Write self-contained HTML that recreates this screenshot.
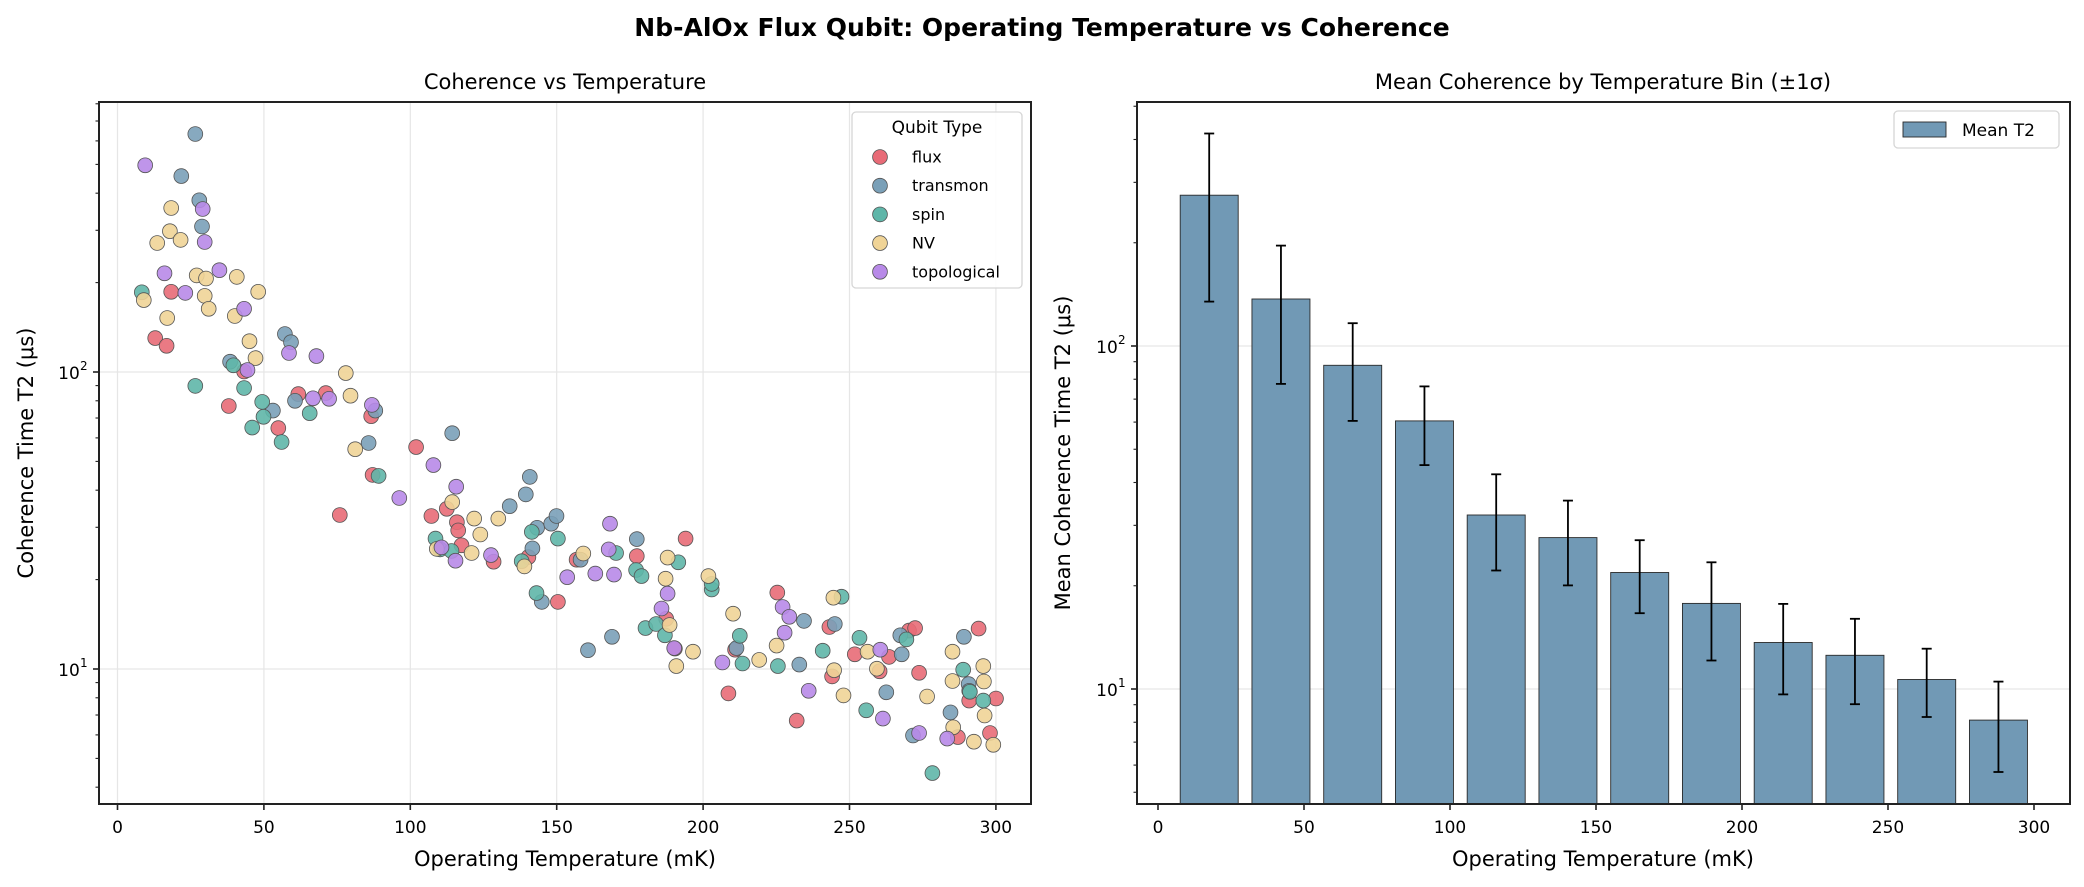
<!DOCTYPE html>
<html><head><meta charset="utf-8"><style>
html,body{margin:0;padding:0;background:#fff;}
svg{display:block;font-family:"DejaVu Sans","Liberation Sans",sans-serif;}
</style></head><body>
<svg id="s" width="2084" height="887" xmlns="http://www.w3.org/2000/svg">
<text x="1042" y="36" text-anchor="middle" font-size="25" font-weight="bold" fill="#000">Nb-AlOx Flux Qubit: Operating Temperature vs Coherence</text>
<text x="565" y="89" text-anchor="middle" font-size="21" fill="#000">Coherence vs Temperature</text>
<text x="1603" y="89" text-anchor="middle" font-size="21" fill="#000">Mean Coherence by Temperature Bin (±1σ)</text>
<g id="L"></g><g id="R"></g>
</svg>
<script>
const NS="http://www.w3.org/2000/svg";
function el(p,t,a,txt){const e=document.createElementNS(NS,t);for(const k in a)e.setAttribute(k,a[k]);if(txt!==undefined)e.textContent=txt;p.appendChild(e);return e;}
const L=document.getElementById('L'),R=document.getElementById('R');
const lx0=99,lx1=1031,ty=102,by=804;
const LX=t=>117.5+t*2.928, LY=v=>372-(Math.log10(v)-2)*297;
for(let t=0;t<=300;t+=50)el(L,'line',{x1:LX(t),x2:LX(t),y1:ty,y2:by,stroke:'#e6e6e6','stroke-width':1.2});
[10,100].forEach(v=>el(L,'line',{x1:lx0,x2:lx1,y1:LY(v),y2:LY(v),stroke:'#e6e6e6','stroke-width':1.2}));
const pts={
flux:['#e86b77',[[256,412],[232,502],[249,517],[342,634],[365,567],[446,611],[487,609],[416,677],[555,654],[557,768],[508,846],[622,714],[645,848],[668,834],[683,860],[685,876],[690,905],[738,937],[790,928],[834,1015],[862,933],[952,926],[996,1048],[1009,1106],[1025,892],[1089,1193],[1099,1108],[1162,997],[1191,1246],[1240,1064],[1244,1160],[1278,1117],[1315,1150],[1329,1122],[1359,1071],[1368,1066],[1374,1153],[1432,1278],[1449,1207],[1463,1067],[1480,1270],[1489,1203]]],
transmon:['#7aa0b8',[[292,105],[271,187],[298,234],[302,285],[426,494],[435,510],[344,548],[408,643],[441,624],[561,643],[551,706],[676,687],[762,829],[786,806],[792,772],[803,871],[796,911],[824,863],[832,848],[868,933],[810,1015],[879,1109],[915,1083],[952,893],[1101,1105],[1202,1052],[1195,1137],[1248,1058],[1325,1191],[1346,1080],[1348,1117],[1365,1275],[1421,1230],[1441,1083],[1448,1175],[1449,1188]]],
spin:['#5fb6a9',[[212,413],[349,555],[292,595],[365,599],[392,626],[394,655],[377,676],[421,704],[463,648],[566,770],[651,892],[658,913],[675,916],[795,879],[834,892],[780,936],[802,998],[921,920],[951,953],[959,965],[1014,938],[965,1066],[981,1058],[994,1080],[1064,991],[1064,980],[1106,1081],[1110,1135],[1163,1140],[1230,1110],[1285,1085],[1295,1226],[1258,1005],[1355,1088],[1440,1147],[1450,1190],[1470,1207],[1394,1348]]],
NV:['#f0d497',[[215,428],[256,249],[254,294],[235,317],[270,311],[250,463],[294,380],[308,386],[306,420],[312,445],[354,383],[351,459],[386,412],[373,508],[382,541],[517,570],[524,614],[531,718],[676,821],[653,912],[709,853],[718,884],[705,920],[745,853],[784,946],[872,921],[998,929],[995,970],[1001,1060],[1011,1140],[1036,1112],[1059,965],[1096,1038],[1135,1128],[1161,1100],[1246,1007],[1247,1148],[1261,1197],[1297,1112],[1311,1145],[1386,1199],[1424,1112],[1424,1169],[1425,1259],[1456,1287],[1470,1140],[1471,1170],[1472,1236],[1485,1293]]],
topological:['#b88ae8',[[217,166],[246,376],[277,414],[303,251],[306,315],[328,370],[365,445],[370,564],[432,531],[473,537],[468,619],[492,620],[556,632],[648,749],[597,813],[682,791],[681,935],[660,909],[734,924],[848,967],[890,960],[918,962],[912,863],[910,913],[998,999],[989,1028],[1008,1105],[1080,1133],[1170,1025],[1180,1044],[1173,1075],[1209,1188],[1316,1108],[1320,1242],[1374,1270],[1416,1281]]]};
for(const k in pts){const [c,arr]=pts[k];arr.forEach(([zx,zy])=>el(L,'circle',{cx:(zx/1.495).toFixed(1),cy:(80+zy/1.945).toFixed(1),r:7.4,fill:c,stroke:'#555','stroke-width':0.8,'fill-opacity':0.9}));}
el(L,'rect',{x:lx0,y:ty,width:lx1-lx0,height:by-ty,fill:'none',stroke:'#222','stroke-width':2});
for(let t=0;t<=300;t+=50){el(L,'line',{x1:LX(t),x2:LX(t),y1:by,y2:by+6,stroke:'#222','stroke-width':1.6});el(L,'text',{x:LX(t),y:by+29,'text-anchor':'middle','font-size':17},t);}
[[10,'1'],[100,'2']].forEach(([v,e])=>{const y=LY(v);el(L,'line',{x1:lx0-6,x2:lx0,y1:y,y2:y,stroke:'#222','stroke-width':1.6});el(L,'text',{x:lx0-30,y:y+7,'text-anchor':'middle','font-size':17},'10');el(L,'text',{x:lx0-19,y:y-2,'font-size':12},e);});
[4,5,6,7,8,9,20,30,40,50,60,70,80,90,200,300,400,500,600,700,800].forEach(v=>{const y=LY(v);if(y>ty&&y<by)el(L,'line',{x1:lx0-3.5,x2:lx0,y1:y,y2:y,stroke:'#222','stroke-width':1.1});});
el(L,'text',{x:565,y:866,'text-anchor':'middle','font-size':21},'Operating Temperature (mK)');
el(L,'text',{x:0,y:0,'text-anchor':'middle','font-size':21,transform:'translate(33,453) rotate(-90)'},'Coherence Time T2 (μs)');
el(L,'rect',{x:852,y:112,width:170,height:176,rx:4,fill:'#fff','fill-opacity':0.85,stroke:'#d6d6d6','stroke-width':1.3});
el(L,'text',{x:937,y:133,'text-anchor':'middle','font-size':17},'Qubit Type');
const lk=['flux','transmon','spin','NV','topological'];
lk.forEach((k,i)=>{const y=157+i*28.7;el(L,'circle',{cx:880,cy:y,r:7.4,fill:pts[k][0],stroke:'#555','stroke-width':0.8});el(L,'text',{x:912,y:y+5.5,'font-size':16},k);});
const rx0=1137,rx1=2070;
const RX=t=>1158+t*2.92, RY=v=>346-(Math.log10(v)-2)*343;
[10,100].forEach(v=>el(R,'line',{x1:rx0,x2:rx1,y1:RY(v),y2:RY(v),stroke:'#e6e6e6','stroke-width':1.2}));
const tops=[195.2,299,365.3,420.9,515,537.6,572.5,603.4,642.5,655.3,679.5,720.1];
const eb=[[133.5,301.6],[245.6,383.9],[323.2,420.9],[386.4,465.1],[474.3,570.5],[500.6,585.4],[540.2,613.2],[562.3,660.5],[603.9,694.4],[618.8,704.2],[648.7,717],[681.6,772]];
tops.forEach((t,i)=>{const cx=1209.2+i*71.75;el(R,'rect',{x:cx-29,y:t,width:58,height:by-t,fill:'#7199b5',stroke:'#2a2a2a','stroke-width':0.9});});
eb.forEach(([a,b],i)=>{const cx=1209.2+i*71.75;el(R,'line',{x1:cx,x2:cx,y1:a,y2:b,stroke:'#000','stroke-width':1.8});el(R,'line',{x1:cx-5,x2:cx+5,y1:a,y2:a,stroke:'#000','stroke-width':1.8});el(R,'line',{x1:cx-5,x2:cx+5,y1:b,y2:b,stroke:'#000','stroke-width':1.8});});
el(R,'rect',{x:rx0,y:ty,width:rx1-rx0,height:by-ty,fill:'none',stroke:'#222','stroke-width':2});
for(let t=0;t<=300;t+=50){el(R,'line',{x1:RX(t),x2:RX(t),y1:by,y2:by+6,stroke:'#222','stroke-width':1.6});el(R,'text',{x:RX(t),y:by+29,'text-anchor':'middle','font-size':17},t);}
[[10,'1'],[100,'2']].forEach(([v,e])=>{const y=RY(v);el(R,'line',{x1:rx0-6,x2:rx0,y1:y,y2:y,stroke:'#222','stroke-width':1.6});el(R,'text',{x:rx0-30,y:y+7,'text-anchor':'middle','font-size':17},'10');el(R,'text',{x:rx0-19,y:y-2,'font-size':12},e);});
[5,6,7,8,9,20,30,40,50,60,70,80,90,200,300,400,500].forEach(v=>{const y=RY(v);if(y>ty&&y<by)el(R,'line',{x1:rx0-3.5,x2:rx0,y1:y,y2:y,stroke:'#222','stroke-width':1.1});});
el(R,'text',{x:1603,y:866,'text-anchor':'middle','font-size':21},'Operating Temperature (mK)');
el(R,'text',{x:0,y:0,'text-anchor':'middle','font-size':21,transform:'translate(1070,453) rotate(-90)'},'Mean Coherence Time T2 (μs)');
el(R,'rect',{x:1894,y:111,width:165,height:37,rx:4,fill:'#fff',stroke:'#d6d6d6','stroke-width':1.3});
el(R,'rect',{x:1903,y:122,width:43,height:15,fill:'#7199b5',stroke:'#2a2a2a','stroke-width':0.9});
el(R,'text',{x:1962,y:136,'font-size':17},'Mean T2');
</script>
</body></html>
